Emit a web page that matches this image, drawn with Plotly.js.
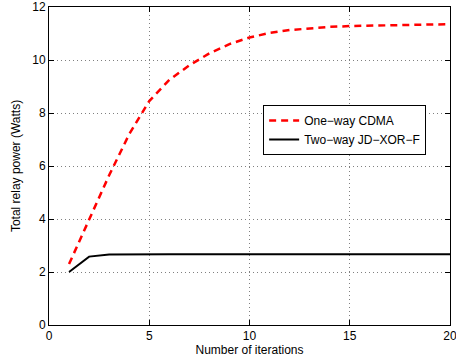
<!DOCTYPE html>
<html><head><meta charset="utf-8">
<script src="https://cdn.plot.ly/plotly-3.0.1.min.js"></script>
<style>html,body{margin:0;padding:0;background:#fff;}#plot{width:456px;height:363px;}</style>
</head><body><div id="plot"></div>
<script>
const iterations = [1,2,3,4,5,6,7,8,9,10,11,12,13,14,15,16,17,18,19,20];
const oneWayCDMA = [2.3,3.95,5.65,7.2,8.45,9.25,9.8,10.25,10.6,10.85,11.02,11.13,11.2,11.25,11.28,11.3,11.32,11.33,11.34,11.35];
const twoWayJDXORF = [2.0,2.58,2.66,2.67,2.67,2.67,2.67,2.67,2.67,2.67,2.67,2.67,2.67,2.67,2.67,2.67,2.67,2.67,2.67,2.67];
const seriesNames = ["One\u2212way CDMA", "Two\u2212way JD\u2212XOR\u2212F"];
const xTicks = [0,5,10,15,20];
const yTicks = [0,2,4,6,8,10,12];

const FONT = 'Liberation Sans, Arial, sans-serif';
const traces = [
  {x: iterations, y: oneWayCDMA, name: seriesNames[0], mode: 'lines',
   line: {color: '#ff0000', width: 2.5, dash: '7px,5px'}},
  {x: iterations, y: twoWayJDXORF, name: seriesNames[1], mode: 'lines',
   line: {color: '#000000', width: 2}}
];
const axisCommon = {
  showline: true, linecolor: '#000', linewidth: 1, mirror: 'ticks',
  ticks: 'inside', ticklen: 5, tickcolor: '#000', tickwidth: 1,
  showgrid: true, gridcolor: '#808080', griddash: '1px,3px', gridwidth: 1,
  zeroline: false, ticklabeloverflow: 'allow',
  tickfont: {family: FONT, size: 12, color: '#000'}
};
const layout = {
  width: 456, height: 363,
  margin: {l: 49, r: 6, t: 7, b: 38},
  paper_bgcolor: '#fff', plot_bgcolor: '#fff',
  showlegend: true,
  legend: {x: 0.534, y: 0.692, xanchor: 'left', yanchor: 'top',
    bgcolor: '#fff', bordercolor: '#000', borderwidth: 1,
    font: {family: FONT, size: 12, color: '#000'}},
  xaxis: Object.assign({}, axisCommon, {range: [0, 20], tickvals: xTicks, ticktext: xTicks.map(String),
    title: {text: 'Number of iterations', standoff: 3, font: {family: FONT, size: 12, color: '#000'}}}),
  yaxis: Object.assign({}, axisCommon, {range: [0, 12], tickvals: yTicks, ticktext: yTicks.map(String),
    title: {text: 'Total relay power (Watts)', standoff: 9, font: {family: FONT, size: 12, color: '#000'}}})
};
Plotly.newPlot('plot', traces, layout, {displayModeBar: false, staticPlot: true});
</script></body></html>
